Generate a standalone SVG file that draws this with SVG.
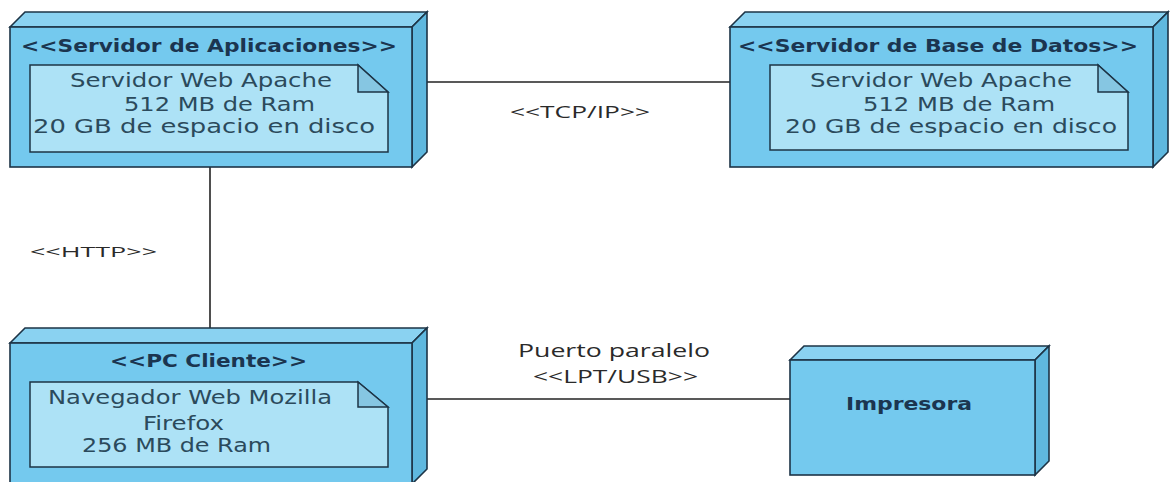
<svg xmlns="http://www.w3.org/2000/svg" width="1170" height="482" viewBox="0 0 1170 482">
<style>
.front{fill:#74c9ee;stroke:#1d3446;stroke-width:1.6}
.top{fill:#8ad2f1;stroke:#1d3446;stroke-width:1.6}
.side{fill:#5fb8df;stroke:#1d3446;stroke-width:1.6}
.note{fill:#ade2f6;stroke:#1d3446;stroke-width:1.5}
.fold{fill:#86c6e2;stroke:#1d3446;stroke-width:1.5}
.st{font-family:"DejaVu Sans",Verdana,sans-serif;font-weight:bold;font-size:17px;fill:#1b3550}
.nt{font-family:"DejaVu Sans",Verdana,sans-serif;font-size:20px;fill:#2b4a5c}
.lb{font-family:"Open Sans","DejaVu Sans",sans-serif;fill:#2a2a2a}
.conn{stroke:#222;stroke-width:1.6;fill:none}
</style>
<rect width="1170" height="482" fill="#ffffff"/>
<g id="connectors">
<line class="conn" x1="427" y1="82" x2="730" y2="82"/>
<line class="conn" x1="210" y1="167" x2="210" y2="328"/>
<line class="conn" x1="427" y1="399" x2="790" y2="399"/>
<text class="lb" x="510" y="118" font-size="17" textLength="140" lengthAdjust="spacingAndGlyphs">&lt;&lt;TCP/IP&gt;&gt;</text>
<text class="lb" x="30" y="257" font-size="15" textLength="127" lengthAdjust="spacingAndGlyphs">&lt;&lt;HTTP&gt;&gt;</text>
<text class="lb" x="518" y="357" font-size="18" textLength="192" lengthAdjust="spacingAndGlyphs">Puerto paralelo</text>
<text class="lb" x="533" y="383" font-size="18" textLength="165" lengthAdjust="spacingAndGlyphs">&lt;&lt;LPT/USB&gt;&gt;</text>
</g>
<g id="servidor-aplicaciones">
<polygon class="top" points="10,27 25,12 427,12 412,27"/>
<polygon class="side" points="412,27 427,12 427,152 412,167"/>
<rect class="front" x="10" y="27" width="402" height="140"/>
<text class="st" x="21" y="52" textLength="376" lengthAdjust="spacingAndGlyphs">&lt;&lt;Servidor de Aplicaciones&gt;&gt;</text>
<path class="note" d="M30,65 H358 L388,92 V152 H30 Z"/>
<path class="fold" d="M358,65 V92 H388 Z"/>
<text class="nt" x="70" y="87" textLength="262" lengthAdjust="spacingAndGlyphs">Servidor Web Apache</text>
<text class="nt" x="124" y="111" textLength="191" lengthAdjust="spacingAndGlyphs">512 MB de Ram</text>
<text class="nt" x="33" y="133" textLength="342" lengthAdjust="spacingAndGlyphs">20 GB de espacio en disco</text>
</g>
<g id="servidor-base-datos">
<polygon class="top" points="730,27 745,12 1168,12 1153,27"/>
<polygon class="side" points="1153,27 1168,12 1168,152 1153,167"/>
<rect class="front" x="730" y="27" width="423" height="140"/>
<text class="st" x="738" y="52" textLength="400" lengthAdjust="spacingAndGlyphs">&lt;&lt;Servidor de Base de Datos&gt;&gt;</text>
<path class="note" d="M770,65 H1098 L1128,92 V150 H770 Z"/>
<path class="fold" d="M1098,65 V92 H1128 Z"/>
<text class="nt" x="810" y="87" textLength="262" lengthAdjust="spacingAndGlyphs">Servidor Web Apache</text>
<text class="nt" x="863" y="111" textLength="192" lengthAdjust="spacingAndGlyphs">512 MB de Ram</text>
<text class="nt" x="785" y="133" textLength="332" lengthAdjust="spacingAndGlyphs">20 GB de espacio en disco</text>
</g>
<g id="pc-cliente">
<polygon class="top" points="10,343 25,328 427,328 412,343"/>
<polygon class="side" points="412,343 427,328 427,469 412,484"/>
<rect class="front" x="10" y="343" width="402" height="141"/>
<text class="st" x="110" y="367" textLength="197" lengthAdjust="spacingAndGlyphs">&lt;&lt;PC Cliente&gt;&gt;</text>
<path class="note" d="M30,382 H358 L388,407 V467 H30 Z"/>
<path class="fold" d="M358,382 V407 H388 Z"/>
<text class="nt" x="48" y="404" textLength="284" lengthAdjust="spacingAndGlyphs">Navegador Web Mozilla</text>
<text class="nt" x="143" y="430" textLength="81" lengthAdjust="spacingAndGlyphs">Firefox</text>
<text class="nt" x="82" y="452" textLength="189" lengthAdjust="spacingAndGlyphs">256 MB de Ram</text>
</g>
<g id="impresora">
<polygon class="top" points="790,360 804,346 1049,346 1035,360"/>
<polygon class="side" points="1035,360 1049,346 1049,461 1035,475"/>
<rect class="front" x="790" y="360" width="245" height="115"/>
<text class="st" x="846" y="410" textLength="126" lengthAdjust="spacingAndGlyphs">Impresora</text>
</g>
</svg>
